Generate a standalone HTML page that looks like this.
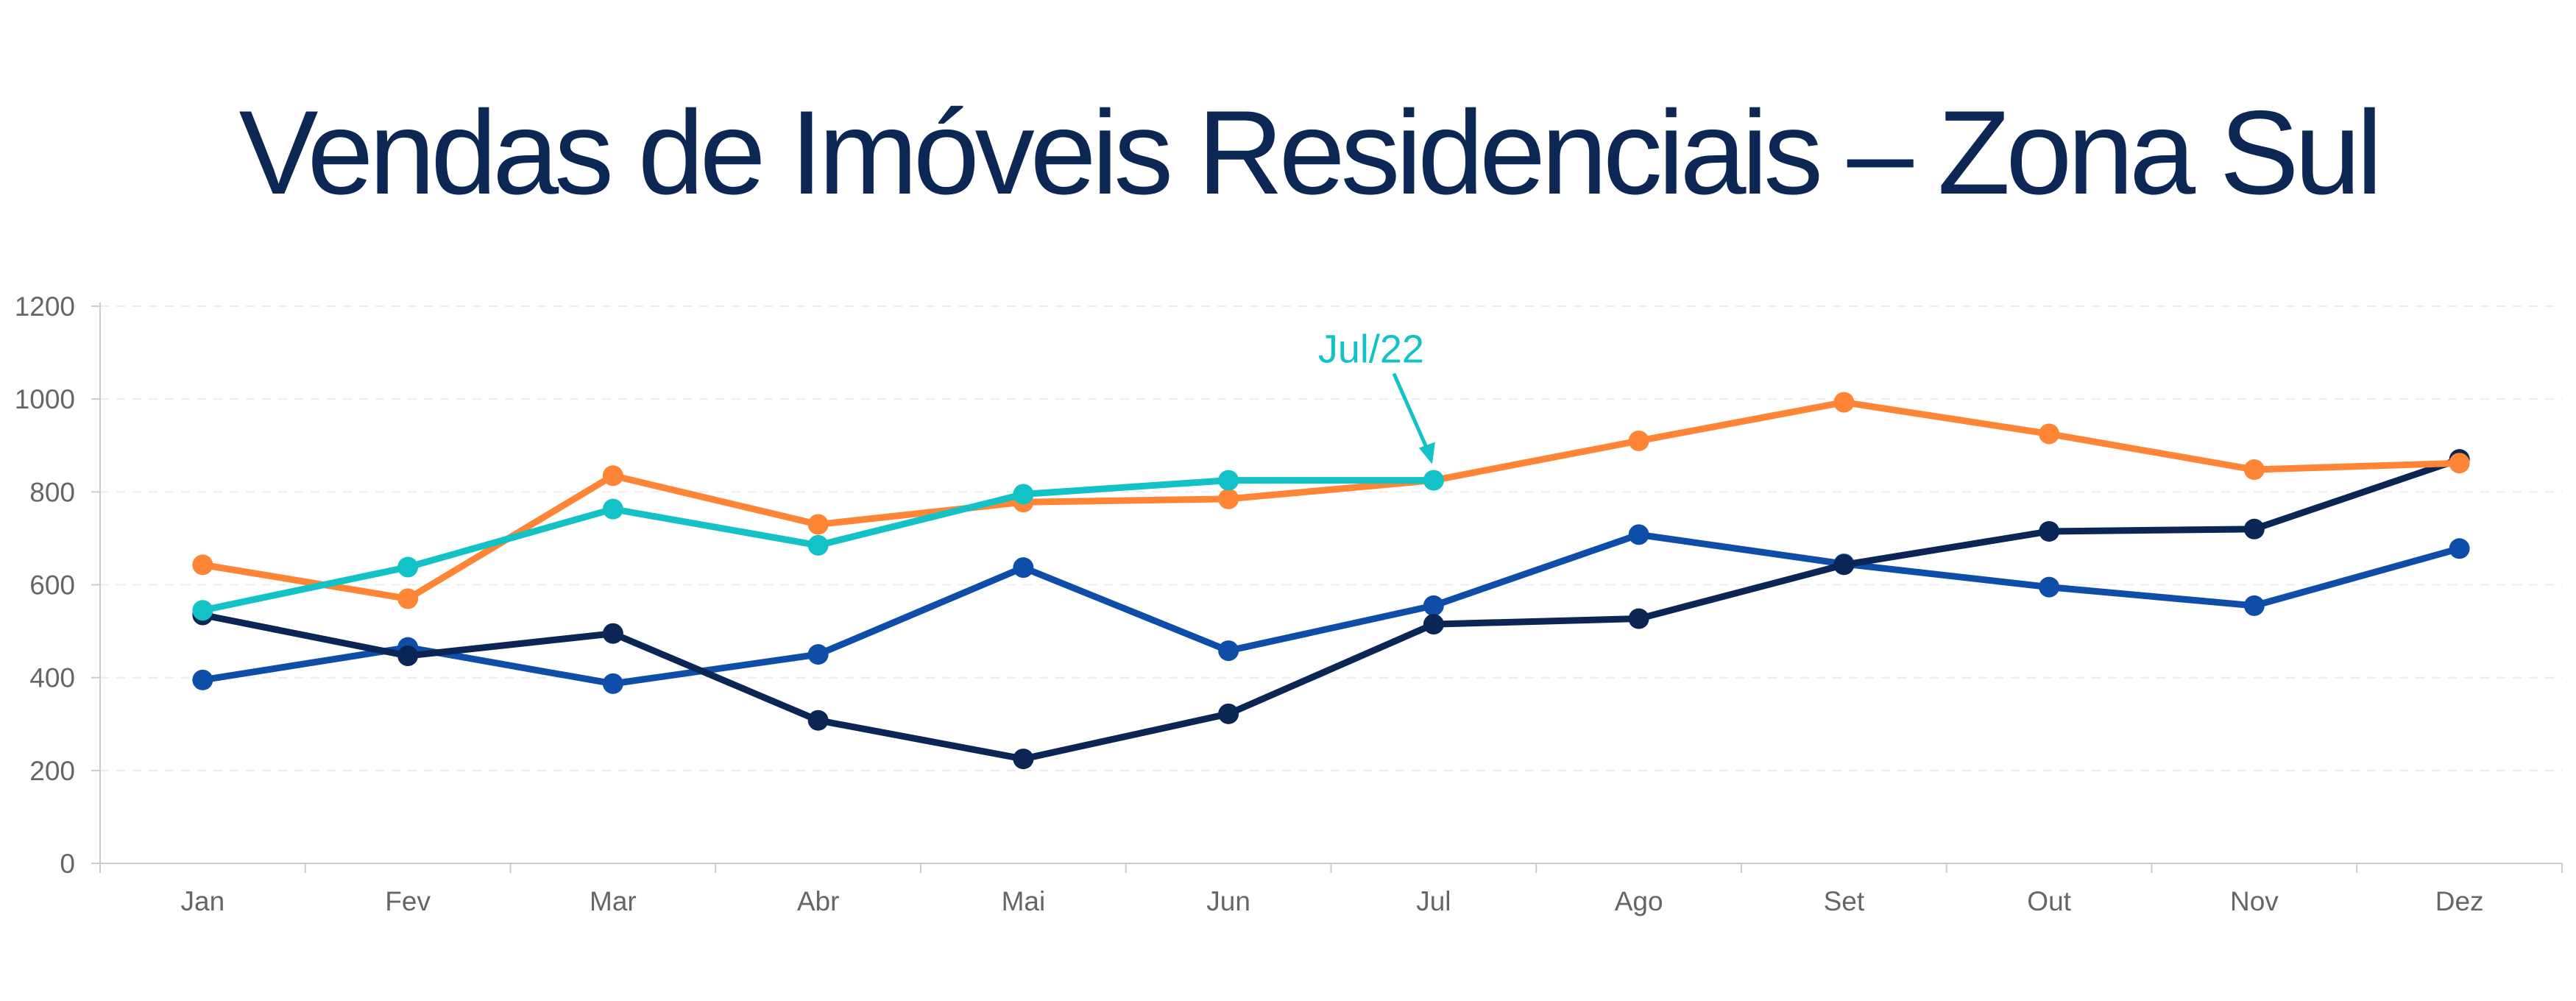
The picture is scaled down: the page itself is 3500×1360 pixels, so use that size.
<!DOCTYPE html>
<html><head><meta charset="utf-8"><style>
html,body{margin:0;padding:0;background:#fff;}
svg{display:block;}
</style></head><body>
<svg id="chart" width="3500" height="1360" viewBox="0 0 3500 1360" xmlns="http://www.w3.org/2000/svg">
<text x="1781" y="263" text-anchor="middle" font-family="Liberation Sans, sans-serif" font-size="162" fill="#0d2754" textLength="2913" lengthAdjust="spacing">Vendas de Imóveis Residenciais – Zona Sul</text>
<g id="grid"></g>
<g id="axes"></g>
<g id="series"></g>
<g id="annot"></g>
</svg>
<script>
const categories = ["Jan","Fev","Mar","Abr","Mai","Jun","Jul","Ago","Set","Out","Nov","Dez"];
const yTicks = [0,200,400,600,800,1000,1200];
const seriesBlue = [395,465,387,450,637,458,555,708,645,595,555,678];
const seriesNavy = [535,447,495,308,225,322,515,527,643,715,720,870];
const seriesOrange = [643,570,835,730,778,785,825,910,993,925,848,862];
const seriesCyan = [545,638,763,685,795,825,825];
const annotationLabel = "Jul/22";
const annotationIndex = 6;

const NS = "http://www.w3.org/2000/svg";
const X0 = 136, X1 = 3481, Y0 = 1173, Y1 = 416, YMAX = 1200;
const band = (X1 - X0) / categories.length;
function xScale(i){ return X0 + band * (i + 0.5); }
function yScale(v){ return Y0 - (v / YMAX) * (Y0 - Y1); }
function mk(tag, attrs, parent){
  const e = document.createElementNS(NS, tag);
  for (const k in attrs) e.setAttribute(k, attrs[k]);
  parent.appendChild(e);
  return e;
}
const grid = document.getElementById('grid');
const axes = document.getElementById('axes');
const series = document.getElementById('series');
const annot = document.getElementById('annot');

yTicks.forEach(t => {
  const y = yScale(t);
  if (t > 0) {
    const g = mk('line', {x1:X0, x2:X1, y1:y, y2:y, stroke:'#ececec', 'stroke-width':2, 'stroke-dasharray':'12,10'}, grid);
    
    
  }
  const tk = mk('line', {x1:X0-12, x2:X0, y1:y, y2:y, stroke:'#cccccc', 'stroke-width':2}, axes);
  
  
  const lb = mk('text', {x:102, y:y+13, 'text-anchor':'end', 'font-family':'Liberation Sans, sans-serif', 'font-size':37, fill:'#666'}, axes);
  lb.textContent = t;
  
  
});
const ya = mk('line', {x1:X0, x2:X0, y1:Y1-5, y2:Y0+13, stroke:'#cccccc', 'stroke-width':2}, axes);


const xa = mk('line', {x1:X0, x2:X1, y1:Y0, y2:Y0, stroke:'#cccccc', 'stroke-width':2}, axes);


for (let i = 0; i <= categories.length; i++) {
  const x = X0 + band * i;
  const tk = mk('line', {x1:x, x2:x, y1:Y0, y2:Y0+13, stroke:'#cccccc', 'stroke-width':2}, axes);
  
  
}
categories.forEach((c, i) => {
  const lb = mk('text', {x:xScale(i), y:1237, 'text-anchor':'middle', 'font-family':'Liberation Sans, sans-serif', 'font-size':37, fill:'#666'}, axes);
  lb.textContent = c;
  
  
});

function drawSeries(vals, color, name){
  const g = mk('g', {}, series);
  
  
  const pts = vals.map((v, i) => xScale(i) + ',' + yScale(v)).join(' ');
  const pl = mk('polyline', {points:pts, fill:'none', stroke:color, 'stroke-width':9, 'stroke-linejoin':'round', 'stroke-linecap':'round'}, g);
  
  
  vals.forEach((v, i) => {
    const c = mk('circle', {cx:xScale(i), cy:yScale(v), r:14, fill:color}, g);
    
    
  });
}
drawSeries(seriesBlue, '#0f4ea8', 'series-blue');
drawSeries(seriesNavy, '#0b2554', 'series-navy');
drawSeries(seriesOrange, '#fd8535', 'series-orange');
drawSeries(seriesCyan, '#12c2c6', 'series-cyan');

const ax = xScale(annotationIndex), ay = yScale(seriesCyan[annotationIndex]);
const at = mk('text', {x:ax-85, y:ay-160, 'text-anchor':'middle', 'font-family':'Liberation Sans, sans-serif', 'font-size':54, fill:'#12c2c6'}, annot);
at.textContent = annotationLabel;


const al = mk('line', {x1:ax-54, y1:ay-145, x2:ax-6, y2:ay-36, stroke:'#12c2c6', 'stroke-width':5}, annot);


const ah = mk('polygon', {points:(ax-2)+','+(ay-22)+' '+(ax-20)+','+(ay-44)+' '+(ax+2)+','+(ay-52), fill:'#12c2c6'}, annot);


</script>
</body></html>
